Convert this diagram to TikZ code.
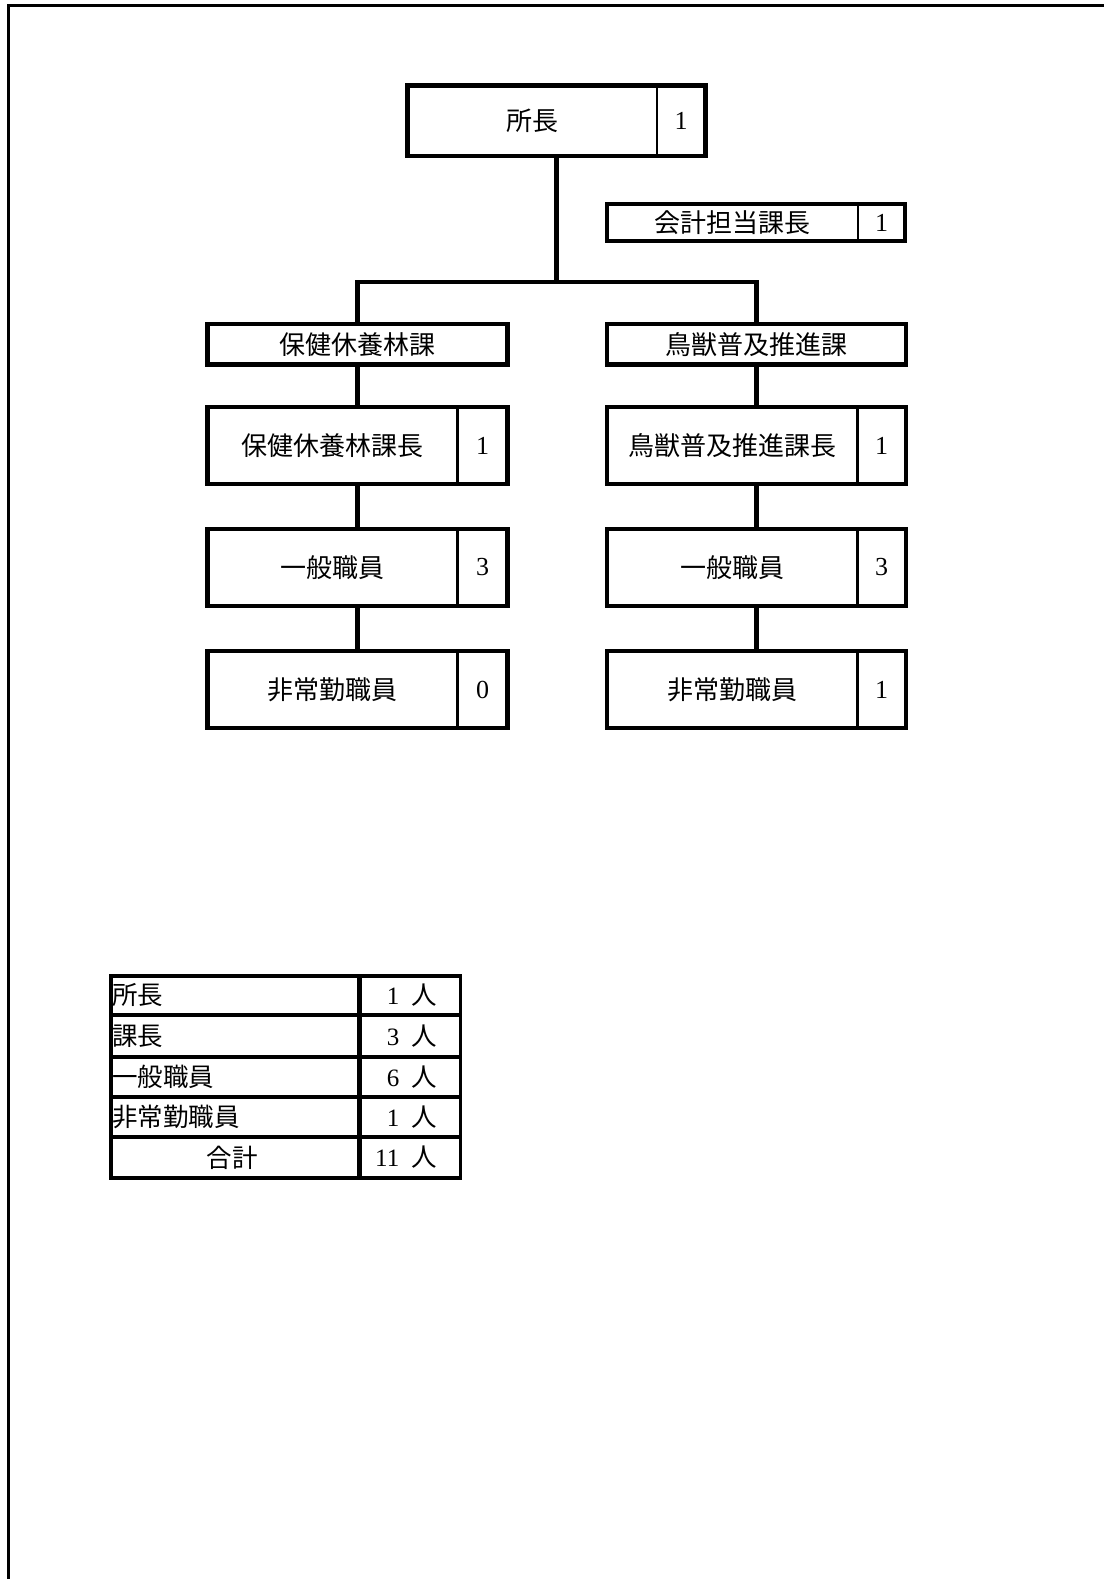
\documentclass[tikz,border=0pt]{standalone}
\usepackage{fontspec}
\newfontfamily\cjk{Noto Sans CJK JP}
\newfontfamily\numfont{Liberation Serif}
\usetikzlibrary{calc}
\begin{document}
\begin{tikzpicture}[x=1pt,y=-1pt,
  box/.style={draw, line width=4.5pt, inner sep=0pt, outer sep=0pt},
  conn/.style={line width=4.3pt},
  divider/.style={line width=2.8pt},
  jp/.style={inner sep=0pt, font=\cjk\fontsize{26}{30}\selectfont},
  tjp/.style={inner sep=0pt, font=\cjk\fontsize{25.5}{30}\selectfont},
  num/.style={inner sep=0pt, font=\numfont\fontsize{26}{30}\selectfont},
  tnum/.style={inner sep=0pt, font=\numfont\fontsize{25}{30}\selectfont},
  tline/.style={line width=3.6pt},
]
\useasboundingbox (0,0) rectangle (1103,1579);
% page frame (top and left)
\draw[line width=3pt] (8.5,1582) -- (8.5,5.5) -- (1106,5.5);

% ---- top box
\node[box, minimum width=298pt, minimum height=70.5pt] (head) at (556.5,120.75) {};
\draw[divider] (657,85.5) -- (657,156);
\node[jp] (headT) at (532,120.75) {所長};
\node[num] (headN) at (681,121) {1};

% ---- accounting box
\node[box, line width=4pt, minimum width=298pt, minimum height=37pt] (acc) at (756,222.5) {};
\draw[divider] (858,204) -- (858,241);
\node[jp] (accT) at (732.5,222.5) {会計担当課長};
\node[num] (accN) at (881.5,222.5) {1};

% ---- left column
\node[box, minimum width=300pt, minimum height=40.5pt] (L0) at (357.5,344.25) {};
\node[jp] (L0T) at (357.5,344.25) {保健休養林課};
\node[box, minimum width=300pt, minimum height=77pt] (L1) at (357.5,445.5) {};
\node[box, minimum width=300pt, minimum height=77pt] (L2) at (357.5,567.5) {};
\node[box, minimum width=300pt, minimum height=77pt] (L3) at (357.5,689.5) {};
\draw[divider] (457.5,407) -- (457.5,484);
\draw[divider] (457.5,529) -- (457.5,606);
\draw[divider] (457.5,651) -- (457.5,728);
\node[jp] (L1T) at (332.5,445.5) {保健休養林課長};
\node[num] (L1N) at (482.5,445.5) {1};
\node[jp] (L2T) at (332.5,567.5) {一般職員};
\node[num] (L2N) at (482.5,567.5) {3};
\node[jp] (L3T) at (332.5,689.5) {非常勤職員};
\node[num] (L3N) at (482.5,689.5) {0};

% ---- right column
\node[box, minimum width=299pt, minimum height=40.5pt] (R0) at (756.5,344.25) {};
\node[jp] (R0T) at (756.5,344.25) {鳥獣普及推進課};
\node[box, minimum width=299pt, minimum height=77pt] (R1) at (756.5,445.5) {};
\node[box, minimum width=299pt, minimum height=77pt] (R2) at (756.5,567.5) {};
\node[box, minimum width=299pt, minimum height=77pt] (R3) at (756.5,689.5) {};
\draw[divider] (857.5,407) -- (857.5,484);
\draw[divider] (857.5,529) -- (857.5,606);
\draw[divider] (857.5,651) -- (857.5,728);
\node[jp] (R1T) at (732,445.5) {鳥獣普及推進課長};
\node[num] (R1N) at (881.5,445.5) {1};
\node[jp] (R2T) at (732,567.5) {一般職員};
\node[num] (R2N) at (881.5,567.5) {3};
\node[jp] (R3T) at (732,689.5) {非常勤職員};
\node[num] (R3N) at (881.5,689.5) {1};

% ---- connectors
\coordinate (j) at (556.5,282);
\draw[conn] (head.south) -- (j);
\draw[conn] (L0.north) |- (j) -| (R0.north);
\draw[conn] (L0.south) -- (L1.north);
\draw[conn] (L1.south) -- (L2.north);
\draw[conn] (L2.south) -- (L3.north);
\draw[conn] (R0.south) -- (R1.north);
\draw[conn] (R1.south) -- (R2.north);
\draw[conn] (R2.south) -- (R3.north);

% ---- summary table
\draw[line width=4pt] (460,975.7) -- (111,975.7) -- (111,1178) -- (460,1178);
\draw[tline] (111,1015) -- (460,1015);
\draw[tline] (111,1056.7) -- (460,1056.7);
\draw[tline] (111,1096.7) -- (460,1096.7);
\draw[tline] (111,1137) -- (460,1137);
\draw[line width=5pt] (359.5,975.7) -- (359.5,1178);
\draw[line width=3pt] (460,974) -- (460,1180);

\node[tjp, anchor=west] (t1) at (112,995.4) {所長};
\node[tjp, anchor=west] (t2) at (112,1035.9) {課長};
\node[tjp, anchor=west] (t3) at (112,1076.7) {一般職員};
\node[tjp, anchor=west] (t4) at (112,1116.9) {非常勤職員};
\node[tjp] (t5) at (232,1157.5) {合計};
\node[tnum, anchor=east] (v1) at (437,995.4) {1\hspace{12pt}{\cjk\fontsize{25.5}{30}\selectfont 人}};
\node[tnum, anchor=east] (v2) at (437,1035.9) {3\hspace{12pt}{\cjk\fontsize{25.5}{30}\selectfont 人}};
\node[tnum, anchor=east] (v3) at (437,1076.7) {6\hspace{12pt}{\cjk\fontsize{25.5}{30}\selectfont 人}};
\node[tnum, anchor=east] (v4) at (437,1116.9) {1\hspace{12pt}{\cjk\fontsize{25.5}{30}\selectfont 人}};
\node[tnum, anchor=east] (v5) at (437,1157.5) {11\hspace{12pt}{\cjk\fontsize{25.5}{30}\selectfont 人}};
\end{tikzpicture}
\end{document}
